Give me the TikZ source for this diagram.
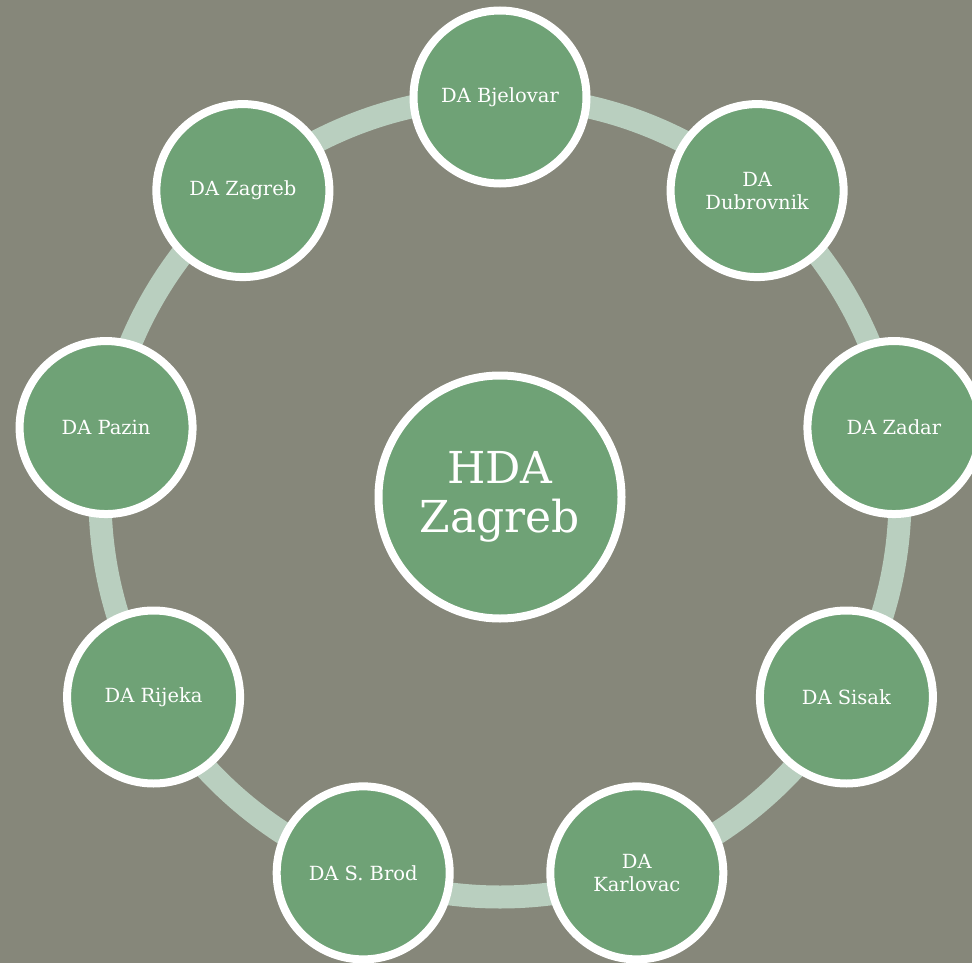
\documentclass[tikz,border=0pt]{standalone}
\usepackage{fontspec}
\setmainfont{DejaVu Serif}
\usetikzlibrary{calc}
\definecolor{bgc}{HTML}{86877A}
\definecolor{ringc}{HTML}{B9CFBF}
\definecolor{nodec}{HTML}{6FA276}
\begin{document}
\begin{tikzpicture}[x=1pt,y=-1pt,
  sat/.style={circle,fill=nodec,draw=white,line width=8pt,minimum size=173pt,inner sep=0pt,
    text=white,align=center,font=\fontsize{19.5}{23}\selectfont},
  hub/.style={circle,fill=nodec,draw=white,line width=8pt,minimum size=243pt,inner sep=0pt,
    text=white,align=center,font=\fontsize{44}{49}\selectfont},
  ring/.style={draw=ringc,line width=23pt}]
\fill[bgc] (0,0) rectangle (972,963);
\useasboundingbox (0,0) rectangle (972,963);
\coordinate (c) at (500,497);
\draw[ring] (c) circle[radius=400];
\node[hub] (hda) at (c) {HDA\\Zagreb};
\node[sat] (bj) at ($(c)+(-90:400)$) {DA Bjelovar};
\node[sat] (du) at ($(c)+(-50:400)$) {DA\\Dubrovnik};
\node[sat] (zd) at ($(c)+(-10:400)$) {DA Zadar};
\node[sat] (si) at ($(c)+(30:400)$) {DA Sisak};
\node[sat] (ka) at ($(c)+(70:400)$) {DA\\Karlovac};
\node[sat] (sb) at ($(c)+(110:400)$) {DA S. Brod};
\node[sat] (ri) at ($(c)+(150:400)$) {DA Rijeka};
\node[sat] (pa) at ($(c)+(190:400)$) {DA Pazin};
\node[sat] (zg) at ($(c)+(230:400)$) {DA Zagreb};
\end{tikzpicture}
\end{document}
